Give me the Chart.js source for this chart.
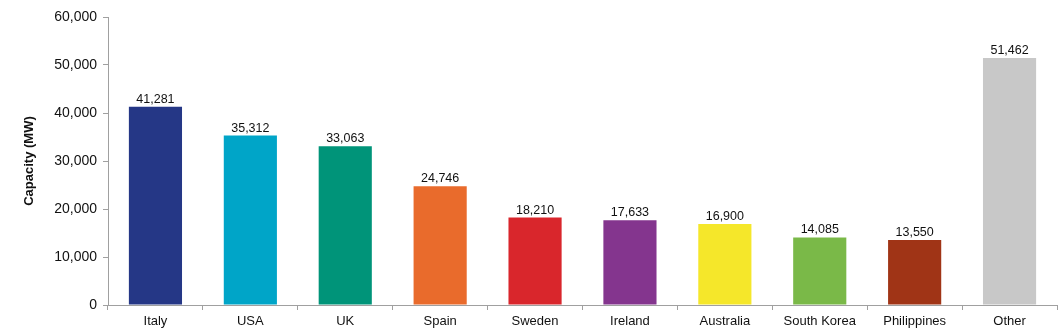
<!DOCTYPE html>
<html>
<head>
<meta charset="utf-8">
<script src="https://cdn.jsdelivr.net/npm/chart.js@4"></script>
<style>
  html, body { margin: 0; padding: 0; background: #fff; }
  #wrap { width: 1060px; height: 330px; position: relative; }
</style>
</head>
<body>
<div id="wrap"><canvas id="capacityChart"></canvas></div>
<script>
const countries = ["Italy", "USA", "UK", "Spain", "Sweden", "Ireland", "Australia", "South Korea", "Philippines", "Other"];
const capacity = [41281, 35312, 33063, 24746, 18210, 17633, 16900, 14085, 13550, 51462];
const barColours = ["#253786", "#00a5c8", "#009479", "#e96b2c", "#d9262c", "#84358e", "#f5e72a", "#7ab948", "#a03416", "#c8c8c8"];
const yTicks = [0, 10000, 20000, 30000, 40000, 50000, 60000];

const fontFamily = "'Liberation Sans', Arial, sans-serif";
const axisGrey = "#a0a0a0";

// value labels above each bar
const valueLabels = {
    id: "valueLabels",
    afterDatasetsDraw(chart) {
        const ctx = chart.ctx;
        const meta = chart.getDatasetMeta(0);
        ctx.save();
        ctx.font = "12.5px " + fontFamily;
        ctx.fillStyle = "#111";
        ctx.textAlign = "center";
        ctx.textBaseline = "alphabetic";
        meta.data.forEach((bar, i) => {
            ctx.fillText(capacity[i].toLocaleString("en-US"), bar.x, bar.y - 4);
        });
        ctx.restore();
    }
};

let ctx = document.getElementById("capacityChart").getContext("2d");
let chart = new Chart(ctx, {
    type: "bar",
    data: {
        labels: countries,
        datasets: [{
            data: capacity,
            backgroundColor: barColours,
            borderWidth: 0,
            categoryPercentage: 1,
            barPercentage: 0.56
        }]
    },
    options: {
        responsive: true,
        maintainAspectRatio: false,
        animation: false,
        layout: { padding: { top: 17, right: 3, left: 0, bottom: 0 } },
        plugins: {
            legend: { display: false },
            tooltip: { enabled: false }
        },
        scales: {
            x: {
                grid: {
                    offset: true,
                    drawOnChartArea: false,
                    color: axisGrey,
                    tickLength: 5
                },
                border: { color: axisGrey, width: 1 },
                ticks: {
                    color: "#111",
                    font: { family: fontFamily, size: 13 },
                    padding: 4,
                    maxRotation: 0
                },
                afterFit(scale) { scale.height = 25; }
            },
            y: {
                min: 0,
                max: 60000,
                afterBuildTicks(scale) {
                    scale.ticks = yTicks.map(v => ({ value: v }));
                },
                grid: {
                    drawOnChartArea: false,
                    color: axisGrey,
                    tickLength: 5
                },
                border: { color: axisGrey, width: 1 },
                ticks: {
                    color: "#111",
                    font: { family: fontFamily, size: 14 },
                    padding: 6,
                    callback: v => v.toLocaleString("en-US")
                },
                title: {
                    display: true,
                    text: "Capacity (MW)",
                    color: "#111",
                    font: { family: fontFamily, size: 13, weight: "bold" },
                    padding: { top: 22, bottom: 0 }
                },
                afterFit(scale) { scale.width = 108; }
            }
        }
    },
    plugins: [valueLabels]
});
</script>
</body>
</html>
